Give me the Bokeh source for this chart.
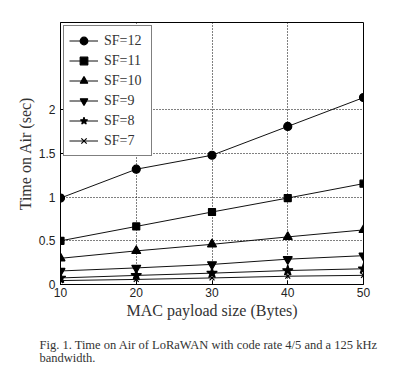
from bokeh.plotting import figure
from bokeh.models import FixedTicker, Range1d, Title, Legend, LegendItem
from bokeh.embed import file_html
from bokeh.resources import INLINE

payload = [10, 20, 30, 40, 50]
sf12 = [0.99, 1.32, 1.48, 1.81, 2.14]
sf11 = [0.50, 0.665, 0.83, 0.99, 1.155]
sf10 = [0.30, 0.385, 0.46, 0.545, 0.625]
sf9 = [0.155, 0.19, 0.23, 0.29, 0.33]
sf8 = [0.075, 0.104, 0.13, 0.16, 0.18]
sf7 = [0.045, 0.058, 0.075, 0.095, 0.105]
series = [("SF=12", sf12, "circle", 8), ("SF=11", sf11, "square", 7),
          ("SF=10", sf10, "triangle", 9), ("SF=9", sf9, "inverted_triangle", 9),
          ("SF=8", sf8, "star", 11), ("SF=7", sf7, "x", 7)]
y_ticks = [0, 0.5, 1, 1.5, 2]
x_ticks = [10, 20, 30, 40, 50]
caption = ["Fig. 1.  Time on Air of LoRaWAN with code rate 4/5 and a 125 kHz",
           "bandwidth."]

p = figure(width=400, height=368, output_backend="svg", toolbar_location=None,
           x_range=Range1d(10, 50), y_range=Range1d(0, 3.0),
           min_border_left=60, min_border_right=37, min_border_top=22,
           min_border_bottom=84)
p.background_fill_color = "white"
p.border_fill_color = "white"
p.outline_line_color = "black"
p.outline_line_alpha = 1
p.outline_line_width = 1

items = []
for name, ys, marker, size in series:
    r1 = p.line(payload, ys, line_color="#111111", line_width=1)
    r2 = p.scatter(payload, ys, marker=marker, size=size, fill_color="black",
                   line_color="black", line_width=1.2)
    items.append(LegendItem(label=name, renderers=[r1, r2]))

p.xaxis.ticker = FixedTicker(ticks=x_ticks)
p.yaxis.ticker = FixedTicker(ticks=y_ticks)
for ax in (p.xaxis, p.yaxis):
    ax.major_tick_in = 4
    ax.major_tick_out = 0
    ax.minor_tick_in = 0
    ax.minor_tick_out = 0
    ax.axis_line_color = "black"
    ax.major_tick_line_color = "black"
    ax.major_label_text_font = "Liberation Sans"
    ax.major_label_text_font_size = "12px"
    ax.major_label_text_color = "#222222"
    ax.axis_label_text_font = "Liberation Serif"
    ax.axis_label_text_font_size = "16px"
    ax.axis_label_text_font_style = "normal"
    ax.axis_label_text_color = "#333333"
p.xaxis.axis_label = "MAC payload size (Bytes)"
p.yaxis.axis_label = "Time on Air (sec)"
p.xaxis.major_label_standoff = 3
p.yaxis.major_label_standoff = 5
p.xaxis.axis_label_standoff = 2
p.yaxis.axis_label_standoff = 2

p.grid.grid_line_color = "black"
p.grid.grid_line_dash = "1 2"
p.grid.grid_line_width = 1
p.grid.grid_line_alpha = 1

legend = Legend(items=items, location="top_left", margin=3, padding=5,
                spacing=1, glyph_width=29, glyph_height=19, label_standoff=6,
                label_width=42,
                label_text_font="Liberation Serif", label_text_font_size="14px",
                label_text_color="#333333", border_line_color="black",
                border_line_width=1, background_fill_alpha=1)
p.add_layout(legend)

spacer = Title(text=" ", standoff=-2, text_font_size="12.5px")
cap1 = Title(text=caption[0], align="left", offset=-21, standoff=0,
             text_font="Liberation Serif", text_font_size="12.5px",
             text_font_style="normal", text_color="#333333")
cap2 = Title(text=caption[1], align="left", offset=-21, standoff=-6,
             text_font="Liberation Serif", text_font_size="12.5px",
             text_font_style="normal", text_color="#333333")
p.add_layout(spacer, "below")
p.add_layout(cap1, "below")
p.add_layout(cap2, "below")

open("out.html", "w").write(file_html(p, INLINE))
